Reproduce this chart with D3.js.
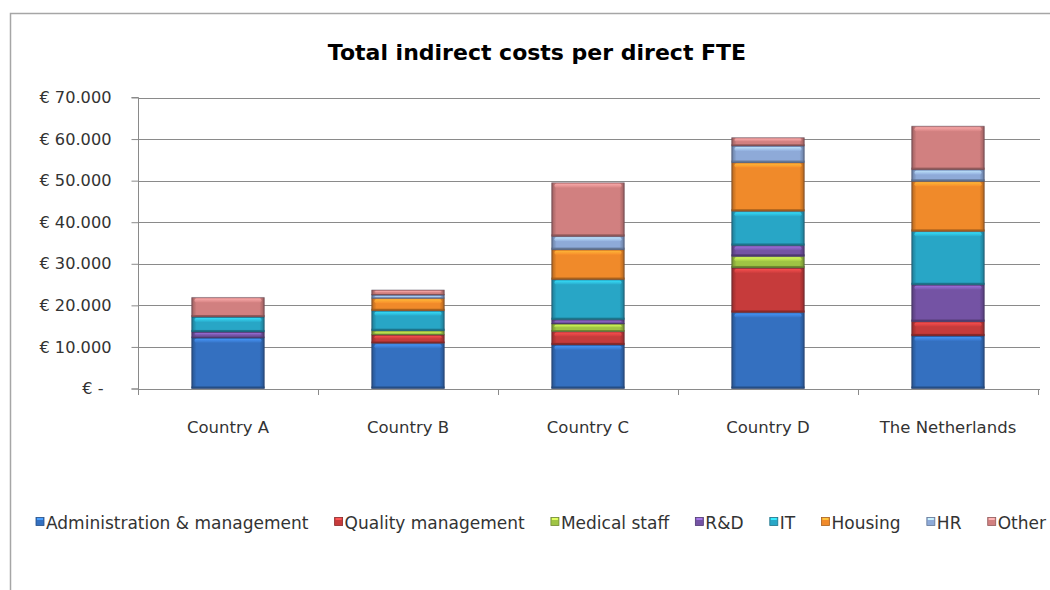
<!DOCTYPE html>
<html><head><meta charset="utf-8">
<script src="https://cdn.jsdelivr.net/npm/d3@7"></script>
<style>
html,body{margin:0;padding:0;background:#fff;}
svg{display:block;}
</style></head>
<body>
<svg id="chart" width="1050" height="590"></svg>
<script>
const categories = ["Country A","Country B","Country C","Country D","The Netherlands"];
const seriesNames = ["Administration & management","Quality management","Medical staff","R&D","IT","Housing","HR","Other"];
const admin    = [12200, 10900, 10500, 18300, 12650];
const quality  = [0,      2000,  3200, 10700,  3450];
const medical  = [0,      1000,  1850,  2800,     0];
const rnd      = [1400,      0,  1000,  2600,  8850];
const it       = [3600,   4800,  9650,  8250, 12850];
const housing  = [0,      3000,  7200, 11700, 12050];
const hr       = [0,       800,  3200,  4000,  2800];
const other    = [4700,   1200, 12900,  2000, 10450];
const yTicks = [0,10000,20000,30000,40000,50000,60000,70000];
const seriesValues = [admin, quality, medical, rnd, it, housing, hr, other];
const colors = ["#3470c0","#c63b3b","#9fc444","#7453a4","#28a6c6","#f08a2a","#8eaad8","#d18080"];

const svg = d3.select("#chart");
const font = "'DejaVu Sans', sans-serif";

// frame
svg.append("path").attr("d","M10.5,590 L10.5,13.5 L1050,13.5").attr("fill","none").attr("stroke","#a6a6a6").attr("stroke-width",1.5);

const x = d3.scaleBand().domain(categories).range([138,1038]).paddingInner(0.594).paddingOuter(0.297);
const y = d3.scaleLinear().domain([0,70000]).range([388.5,97.5]);

// title
svg.append("text").attr("x",537).attr("y",60).attr("text-anchor","middle")
  .attr("font-family",font).attr("font-weight","bold").attr("font-size",22).attr("fill","#000")
  .text("Total indirect costs per direct FTE");

// gridlines
svg.append("g").selectAll("line").data(yTicks.filter(d=>d>0)).join("line")
  .attr("x1",138).attr("x2",1040).attr("y1",d=>Math.round(y(d))+0.5).attr("y2",d=>Math.round(y(d))+0.5)
  .attr("stroke","#8a8a8a").attr("stroke-width",1);

// gradients
const defs = svg.append("defs");
colors.forEach((c,i)=>{
  const base = d3.color(c);
  const g = defs.append("linearGradient").attr("id","g"+i).attr("x1","0").attr("x2","1").attr("y1","0").attr("y2","0");
  g.append("stop").attr("offset","0%").attr("stop-color",base.darker(0.9));
  g.append("stop").attr("offset","7%").attr("stop-color",base);
  g.append("stop").attr("offset","93%").attr("stop-color",base);
  g.append("stop").attr("offset","100%").attr("stop-color",base.darker(0.9));
  const v = defs.append("linearGradient").attr("id","v"+i).attr("x1","0").attr("x2","0").attr("y1","0").attr("y2","1");
  v.append("stop").attr("offset","0%").attr("stop-color",base.brighter(0.9));
  v.append("stop").attr("offset","100%").attr("stop-color",base.brighter(0.1));
});

// stack
const rows = categories.map((c,ci)=>{ const o={cat:c}; seriesNames.forEach((s,si)=>o[s]=seriesValues[si][ci]); return o; });
const stack = d3.stack().keys(seriesNames)(rows);

const bars = svg.append("g");
stack.forEach((layer,si)=>{
  layer.forEach(d=>{
    const h = y(d[0]) - y(d[1]);
    if (h <= 0.1) return;
    const bx = x(d.data.cat), bw = x.bandwidth(), by = y(d[1]);
    const g = bars.append("g");
    g.append("rect").attr("x",bx).attr("y",by).attr("width",bw).attr("height",h).attr("fill",`url(#g${si})`);
    const hh = Math.min(4, h*0.35);
    g.append("rect").attr("x",bx+3).attr("y",by+1).attr("width",bw-6).attr("height",hh).attr("rx",2)
      .attr("fill",`url(#v${si})`).attr("opacity",0.85);
    const bh = Math.min(2, h*0.2);
    g.append("rect").attr("x",bx).attr("y",by+h-bh).attr("width",bw).attr("height",bh)
      .attr("fill",d3.color(colors[si]).darker(1));
    g.append("rect").attr("x",bx+0.5).attr("y",by).attr("width",bw-1).attr("height",h)
      .attr("fill","none").attr("stroke","rgba(40,40,60,0.35)").attr("stroke-width",1);
  });
});

// y axis
const yAxis = d3.axisLeft(y).tickValues(yTicks).tickSize(7).tickPadding(20)
  .tickFormat(d=> d===0 ? "€ -" : "€ " + d3.format(",")(d).replace(/,/g,"."));
const ya = svg.append("g").attr("transform","translate(138.5,0)").call(yAxis);
ya.selectAll("path,line").attr("stroke","#8a8a8a");
ya.select(".domain").attr("d","M-7,97.5H0V389H-7");
ya.selectAll("text").attr("font-family",font).attr("font-size",16.2).attr("fill","#333")
  .attr("dx",d=>d===0?-8:0);

// x axis
const xa = svg.append("g").attr("transform","translate(0,389)");
xa.append("line").attr("x1",138).attr("x2",1040).attr("y1",0.5).attr("y2",0.5).attr("stroke","#8a8a8a");
const bounds = categories.map((c,i)=>138 + i*x.step()).concat([1038]);
xa.selectAll("line.t").data(bounds).join("line").attr("class","t")
  .attr("x1",d=>d+0.5).attr("x2",d=>d+0.5).attr("y1",0).attr("y2",6).attr("stroke","#8a8a8a");
xa.selectAll("text").data(categories).join("text")
  .attr("x",d=>x(d)+x.bandwidth()/2).attr("y",44).attr("text-anchor","middle")
  .attr("font-family",font).attr("font-size",16.5).attr("fill","#333").text(d=>d);

// legend
const lg = svg.append("g").attr("transform","translate(0,529)");
const items = seriesNames.map((s,i)=>{
  const it = lg.append("g");
  it.append("rect").attr("x",0).attr("y",-11.5).attr("width",8).attr("height",8).attr("fill",colors[i])
    .attr("stroke",d3.color(colors[i]).darker(1)).attr("stroke-width",0.8);
  it.append("rect").attr("x",1).attr("y",-11).attr("width",6).attr("height",2).attr("fill",d3.color(colors[i]).brighter(1));
  const t = it.append("text").attr("x",10).attr("y",0).attr("font-family",font).attr("font-size",17).attr("fill","#333").text(s);
  return {g:it, w:10 + t.node().getComputedTextLength()};
});
const totalW = d3.sum(items, d=>d.w);
const gap = (1046 - 36 - totalW) / (items.length - 1);
let lx = 36;
items.forEach(d=>{ d.g.attr("transform",`translate(${lx},0)`); lx += d.w + gap; });
</script>
</body></html>
